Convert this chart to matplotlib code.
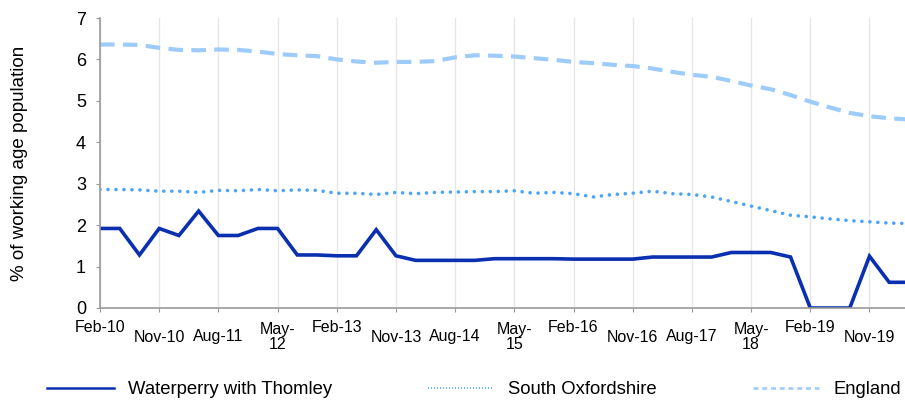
import numpy as np
import matplotlib
matplotlib.use('Agg')
import matplotlib.pyplot as plt
from matplotlib.lines import Line2D
import matplotlib.transforms as mtransforms

plt.rcParams['font.family'] = ['Liberation Sans', 'DejaVu Sans']

# quarterly series, Feb-10 .. May-20
quarters = ['Feb-10', 'May-10', 'Aug-10', 'Nov-10', 'Feb-11', 'May-11', 'Aug-11', 'Nov-11',
            'Feb-12', 'May-12', 'Aug-12', 'Nov-12', 'Feb-13', 'May-13', 'Aug-13', 'Nov-13',
            'Feb-14', 'May-14', 'Aug-14', 'Nov-14', 'Feb-15', 'May-15', 'Aug-15', 'Nov-15',
            'Feb-16', 'May-16', 'Aug-16', 'Nov-16', 'Feb-17', 'May-17', 'Aug-17', 'Nov-17',
            'Feb-18', 'May-18', 'Aug-18', 'Nov-18', 'Feb-19', 'May-19', 'Aug-19', 'Nov-19',
            'Feb-20', 'May-20']

waterperry = [1.92, 1.92, 1.28, 1.92, 1.75, 2.34, 1.75, 1.75, 1.92, 1.92, 1.28, 1.28,
              1.26, 1.26, 1.89, 1.26, 1.15, 1.15, 1.15, 1.15, 1.19, 1.19, 1.19, 1.19,
              1.18, 1.18, 1.18, 1.18, 1.23, 1.23, 1.23, 1.23, 1.34, 1.34, 1.34, 1.23,
              0.0, 0.0, 0.0, 1.25, 0.62, 0.62]

south_oxon = [2.86, 2.86, 2.85, 2.82, 2.82, 2.79, 2.84, 2.83, 2.86, 2.83, 2.85, 2.84,
              2.77, 2.77, 2.74, 2.79, 2.76, 2.79, 2.80, 2.81, 2.81, 2.83, 2.77, 2.79,
              2.76, 2.68, 2.74, 2.77, 2.82, 2.76, 2.74, 2.68, 2.57, 2.46, 2.35, 2.24,
              2.20, 2.15, 2.11, 2.08, 2.05, 2.04]

england = [6.36, 6.36, 6.35, 6.28, 6.23, 6.22, 6.24, 6.23, 6.19, 6.13, 6.10, 6.08,
           6.00, 5.95, 5.92, 5.94, 5.94, 5.96, 6.05, 6.10, 6.09, 6.07, 6.03, 5.99,
           5.94, 5.91, 5.87, 5.84, 5.78, 5.70, 5.63, 5.58, 5.48, 5.37, 5.28, 5.14,
           4.98, 4.84, 4.71, 4.63, 4.58, 4.55]

tick_labels = ['Feb-10', 'Nov-10', 'Aug-11', 'May-\n12', 'Feb-13', 'Nov-13', 'Aug-14',
               'May-\n15', 'Feb-16', 'Nov-16', 'Aug-17', 'May-\n18', 'Feb-19', 'Nov-19']

c_wat = '#0a2fb0'
c_sox = '#4ba4f7'
c_eng = '#9dcbfa'

x = np.arange(len(quarters))
tick_pos = x[::3][:len(tick_labels)]

fig = plt.figure(figsize=(9.05, 4.03), dpi=100)
ax = fig.add_axes([100 / 905, 1 - 308 / 403, 805 / 905, 290 / 403])

ax.plot(x, england, color=c_eng, lw=3.0, ls=(0, (3.5, 2)), solid_capstyle='butt')
ax.plot(x, south_oxon, color=c_sox, lw=2.6, ls=(0, (0.01, 2.2)), dash_capstyle='round')
ax.plot(x, waterperry, color=c_wat, lw=2.6, solid_joinstyle='miter')

ax.set_xlim(0, 40.8)
ax.set_ylim(0, 7)
ax.set_yticks(range(8))
ax.set_xticks(tick_pos)
ax.set_xticklabels([])
ax.grid(axis='x', color='#e6e6e6', lw=1)
ax.set_axisbelow(True)

for s in ['top', 'right']:
    ax.spines[s].set_visible(False)
for s in ['left', 'bottom']:
    ax.spines[s].set_color('#9a9a9a')
    ax.spines[s].set_linewidth(1.2)

ax.tick_params(axis='y', length=3, color='#9a9a9a', labelsize=13, pad=7)
ax.tick_params(axis='x', length=3, color='#9a9a9a')

# staggered category labels like the original
trans = mtransforms.blended_transform_factory(ax.transData, ax.transAxes)
for pos, lab in zip(tick_pos, tick_labels):
    if lab.startswith('Feb'):
        yy = (308 - 327) / 290
    else:
        yy = (308 - 337) / 290
    ax.text(pos, yy, lab, transform=trans, ha='center', va='center',
            fontsize=11.5, linespacing=1.05)

ax.set_ylabel('% of working age population', fontsize=13.5)
ax.yaxis.set_label_coords(-72 / 805, 0.5)

handles = [
    Line2D([], [], color=c_wat, lw=1.8),
    Line2D([], [], color=c_sox, lw=1.2, ls=(0, (0.6, 1.2))),
    Line2D([], [], color=c_eng, lw=1.8, ls=(0, (2, 1.5))),
]
fig.legend(handles, ['Waterperry with Thomley', 'South Oxfordshire', 'England'],
           loc='center left', bbox_to_anchor=(40 / 905, 1 - 390 / 403), ncol=3,
           frameon=False, fontsize=13.3, handlelength=3.6, handletextpad=0.75,
           columnspacing=5.2, borderaxespad=0)

fig.savefig('out.png', dpi=100)
